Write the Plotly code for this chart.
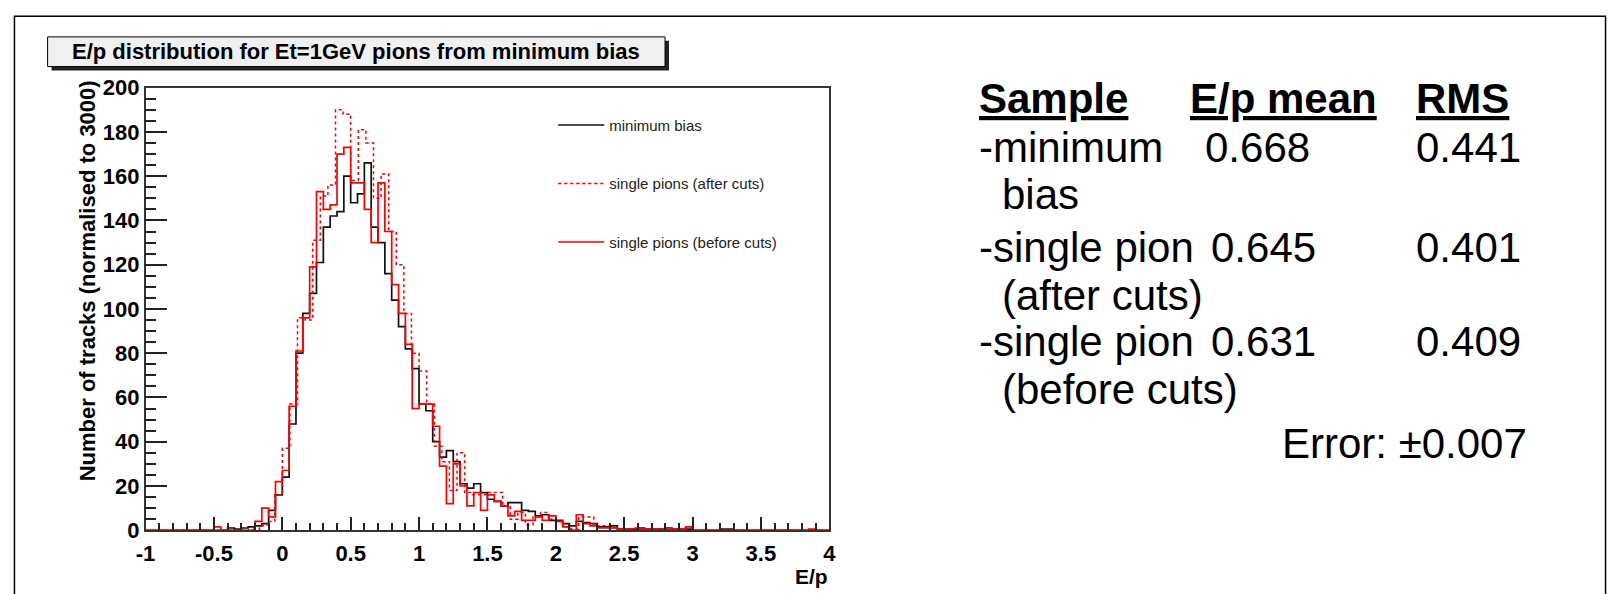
import numpy as np
import plotly.graph_objects as go

# ---------------- data ----------------
X_MIN, X_MAX = -1.0, 4.0
N_BINS_SOLID = 100   # minimum bias & single pions (before cuts)
N_BINS_DOTTED = 90   # single pions (after cuts)

min_bias = [
    0, 0, 0, 0, 0, 0, 0, 0, 0, 0,
    0, 0, 1, 0.5, 1, 1.5, 2, 3, 9, 16,
    24, 48, 80, 98, 107, 121, 137, 142, 144, 160,
    148, 152, 166, 137, 130, 116, 104, 92, 82, 73,
    57, 54, 40, 33, 36, 31, 21, 19, 21, 17,
    14, 13, 11, 12.5, 12.5, 9, 8.5, 6.5, 7, 4.5,
    4.5, 3, 2, 4, 3.5, 3, 1.5, 1.5, 2, 0.5,
    0.5, 0.5, 1, 0.5, 0.5, 0.5, 1, 0.5, 0.5, 0.5,
    0, 0, 0, 0, 0.5, 0.5, 0, 0, 0, 0,
    0, 0, 0, 0, 0, 0, 0, 0, 0, 0,
]

pions_before_cuts = [
    0, 0, 0, 0, 0, 0, 0, 0, 0, 0,
    1.5, 0, 0, 0, 0, 0, 4, 10, 6, 22,
    27, 56, 81, 96, 119, 153, 145, 147, 170, 173,
    157, 157, 145, 130, 157, 135, 111, 98, 84, 55,
    57, 57, 47, 29, 12, 30, 20, 11, 17, 9,
    16, 13, 11, 6.5, 8.5, 4.5, 4.5, 6, 4.5, 6.5,
    4, 1.5, 0, 7, 3, 2, 1, 1, 1, 0.5,
    0.5, 0, 0.5, 0.5, 0.5, 0, 0.5, 0.5, 0.5, 1.5,
    0, 0, 0, 0, 0, 0, 0, 0, 0, 0,
    0, 0, 0, 0, 0, 0, 0, 0.5, 0, 0,
]

pions_after_cuts = [
    0, 0, 0, 0, 0, 0, 0, 0, 0, 0,
    0, 0, 0, 0, 0.5, 2, 4, 16, 37, 57,
    96, 95, 131, 151, 156, 190, 188, 158, 181, 175,
    150, 161, 135, 120, 98, 80, 72, 57, 38, 31,
    18, 35, 17, 16, 16, 17, 17, 11, 5, 8,
    2.5, 6, 8, 5, 4, 1.5, 0.5, 6, 6, 2,
    2, 1, 0.5, 0.5, 1, 0.5, 0.5, 0, 0.5, 0.5,
    0.5, 1, 0, 0, 0, 0, 0, 0, 0, 0,
    0, 0, 0, 0, 0, 0, 0, 0, 0, 0,
]

series_names = ["minimum bias", "single pions (after cuts)", "single pions (before cuts)"]

x_tick_vals = [-1, -0.5, 0, 0.5, 1, 1.5, 2, 2.5, 3, 3.5, 4]
x_tick_text = ["-1", "-0.5", "0", "0.5", "1", "1.5", "2", "2.5", "3", "3.5", "4"]
y_tick_vals = [0, 20, 40, 60, 80, 100, 120, 140, 160, 180, 200]

chart_title = "E/p distribution for Et=1GeV pions from minimum bias"
x_title = "E/p"
y_title = "Number of tracks (normalised to 3000)"

table_header = ["Sample", "E/p mean", "RMS"]
table_rows = [
    ("-minimum", "0.668", "0.441"),
    ("-single pion", "0.645", "0.401"),
    ("-single pion", "0.631", "0.409"),
]
table_row_cont = ["bias", "(after cuts)", "(before cuts)"]
error_text = "Error: \u00b10.007"

# ---------------- figure ----------------
W, H = 1617, 594
FONT = "Liberation Sans, Arial, Helvetica, sans-serif"


def px_x(p):
    return p / W


def px_y(p):
    return 1 - p / H


edges_solid = np.linspace(X_MIN, X_MAX, N_BINS_SOLID + 1)
edges_dotted = np.linspace(X_MIN, X_MAX, N_BINS_DOTTED + 1)


def step(vals):
    return list(vals) + [vals[-1]]


fig = go.Figure()
fig.add_trace(go.Scatter(
    x=edges_solid, y=step(min_bias), mode="lines", name=series_names[0],
    legendgroup="g1", line=dict(color="#111111", width=1.7, shape="hv")))
fig.add_trace(go.Scatter(
    x=edges_dotted, y=step(pions_after_cuts), mode="lines", name=series_names[1],
    legendgroup="g2", line=dict(color="#ff0000", width=1.5, shape="hv", dash="dot")))
fig.add_trace(go.Scatter(
    x=edges_solid, y=step(pions_before_cuts), mode="lines", name=series_names[2],
    legendgroup="g3", line=dict(color="#ff0000", width=1.7, shape="hv")))

PLOT_L, PLOT_R, PLOT_T, PLOT_B = 137, 828, 79, 541

x_axis_font = dict(family=FONT, size=22, color="black", weight="bold")
y_axis_font = dict(family=FONT, size=22, color="black", weight="bold")

fig.update_layout(
    width=W, height=H,
    margin=dict(l=0, r=0, t=0, b=0),
    paper_bgcolor="white", plot_bgcolor="white",
    font=dict(family=FONT, color="black"),
    showlegend=True,
    legend=dict(
        x=px_x(549), y=px_y(101), xanchor="left", yanchor="top",
        bgcolor="rgba(0,0,0,0)", borderwidth=0,
        font=dict(family=FONT, size=15, color="#222222"),
        tracegroupgap=36, itemwidth=46,
    ),
    xaxis=dict(
        domain=[px_x(PLOT_L), px_x(PLOT_R)], range=[X_MIN, X_MAX],
        tickmode="array", tickvals=x_tick_vals, ticktext=x_tick_text,
        ticks="inside", ticklen=13, tickwidth=1.5, tickcolor="#222222",
        showline=True, linecolor="#333333", linewidth=1.5, mirror=True,
        showgrid=False, zeroline=False, tickfont=x_axis_font, ticklabelstandoff=3,
        minor=dict(tickmode="linear", tick0=0, dtick=0.1, ticks="inside",
                   ticklen=7, tickwidth=1.5, tickcolor="#222222", showgrid=False),
    ),
    yaxis=dict(
        domain=[px_y(PLOT_B), px_y(PLOT_T)], range=[0, 200],
        tickmode="array", tickvals=y_tick_vals,
        ticks="inside", ticklen=22, tickwidth=1.5, tickcolor="#222222",
        showline=True, linecolor="#333333", linewidth=1.5, mirror=True,
        showgrid=False, zeroline=False, tickfont=y_axis_font,
        minor=dict(tickmode="linear", tick0=0, dtick=5, ticks="inside",
                   ticklen=11, tickwidth=1.5, tickcolor="#222222", showgrid=False),
    ),
)

shapes = []
# outer frame of the slide
shapes.append(dict(type="rect", xref="paper", yref="paper",
                   x0=px_x(4.5), x1=px_x(1612.5), y0=-0.05, y1=px_y(4.5),
                   line=dict(color="black", width=1.5), fillcolor="rgba(0,0,0,0)", layer="below"))
# title box shadow and box
shapes.append(dict(type="rect", xref="paper", yref="paper",
                   x0=px_x(42), x1=px_x(666), y0=px_y(61), y1=px_y(30),
                   line=dict(width=0), fillcolor="#222222", layer="below"))
shapes.append(dict(type="rect", xref="paper", yref="paper",
                   x0=px_x(38), x1=px_x(662), y0=px_y(57), y1=px_y(26),
                   line=dict(color="black", width=1), fillcolor="#f0f0f0", layer="below"))
fig.update_layout(shapes=shapes)

ann = []
ann.append(dict(text="<b>" + chart_title + "</b>", x=px_x(350), y=px_y(41.5),
                xref="paper", yref="paper", xanchor="center", yanchor="middle",
                showarrow=False, font=dict(family=FONT, size=22, color="black")))
ann.append(dict(text="<b>" + y_title + "</b>", x=px_x(78), y=px_y(281),
                xref="paper", yref="paper", xanchor="center", yanchor="middle",
                textangle=-90, showarrow=False, font=dict(family=FONT, size=22, color="black")))
ann.append(dict(text="<b>" + x_title + "</b>", x=px_x(829), y=px_y(589),
                xref="paper", yref="paper", xanchor="right", yanchor="middle",
                showarrow=False, font=dict(family=FONT, size=21, color="black")))

TF = dict(family=FONT, size=42, color="black")
col_x = [977, 1191, 1419]
val_x = [1206, 1212, 1212]
rms_x = 1419
row_y = [90, 141, 191, 246, 296, 344, 394, 450]

for cx, htxt in zip(col_x, table_header):
    ann.append(dict(text="<b><u>" + htxt + "</u></b>", x=px_x(cx), y=px_y(row_y[0]),
                    xref="paper", yref="paper", xanchor="left", yanchor="middle",
                    showarrow=False, font=TF))
for i, (name, mean, rms) in enumerate(table_rows):
    yy = row_y[1 + 2 * i]
    ann.append(dict(text=name, x=px_x(col_x[0]), y=px_y(yy), xref="paper", yref="paper",
                    xanchor="left", yanchor="middle", showarrow=False, font=TF))
    ann.append(dict(text=mean, x=px_x(val_x[i]), y=px_y(yy), xref="paper", yref="paper",
                    xanchor="left", yanchor="middle", showarrow=False, font=TF))
    ann.append(dict(text=rms, x=px_x(rms_x), y=px_y(yy), xref="paper", yref="paper",
                    xanchor="left", yanchor="middle", showarrow=False, font=TF))
    ann.append(dict(text=table_row_cont[i], x=px_x(1001), y=px_y(row_y[2 + 2 * i]),
                    xref="paper", yref="paper", xanchor="left", yanchor="middle",
                    showarrow=False, font=TF))
ann.append(dict(text=error_text, x=px_x(1535), y=px_y(row_y[7]), xref="paper", yref="paper",
                xanchor="right", yanchor="middle", showarrow=False, font=TF))

fig.update_layout(annotations=ann)

fig.write_html("out.html")
